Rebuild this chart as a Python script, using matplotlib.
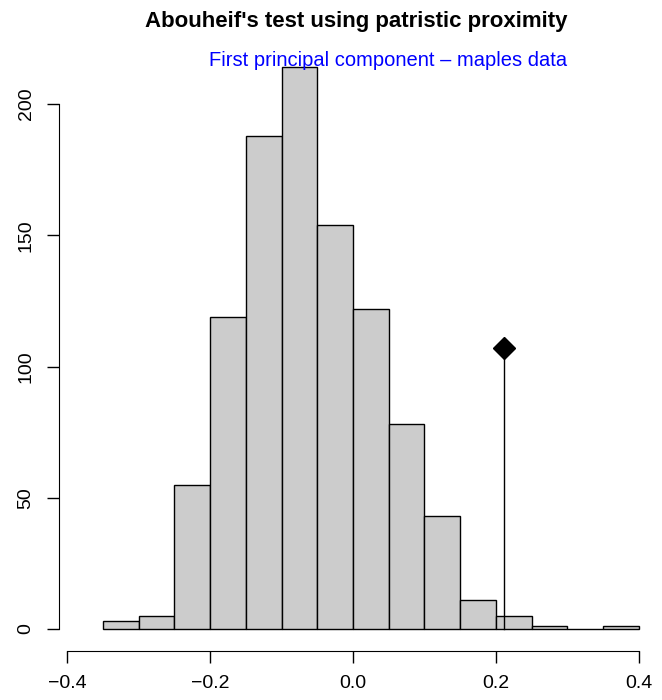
import numpy as np
import matplotlib.pyplot as plt

plt.rcParams.update({'font.family': ['Liberation Sans', 'DejaVu Sans']})

# histogram of simulated statistics (bin edges and counts)
bin_edges = [-0.35, -0.30, -0.25, -0.20, -0.15, -0.10, -0.05, 0.00,
             0.05, 0.10, 0.15, 0.20, 0.25, 0.30, 0.35, 0.40]
counts = [3, 5, 55, 119, 188, 214, 154, 122, 78, 43, 11, 5, 1, 0, 1]

# observed value
obs_x = 0.211
obs_height = 107

x_ticks = [-0.4, -0.2, 0.0, 0.2, 0.4]
y_ticks = [0, 50, 100, 150, 200]

fig = plt.figure(figsize=(6.62, 7), dpi=100)
ax = fig.add_axes([59 / 662, 49 / 700, 588 / 662, 606 / 700])

edges = np.array(bin_edges)
ax.bar(edges[:-1], counts, width=np.diff(edges), align='edge',
       color='#CCCCCC', edgecolor='black', linewidth=1.0)

ax.plot([obs_x, obs_x], [0, obs_height], color='black', linewidth=1.0)
ax.plot([obs_x], [obs_height], marker='D', markersize=11, color='black')

ax.set_xlim(-0.4112, 0.4112)
ax.set_ylim(-8.4, 222.5)

for s in ['top', 'right']:
    ax.spines[s].set_visible(False)
ax.spines['left'].set_bounds(0, 200)
ax.spines['bottom'].set_bounds(-0.4, 0.4)

ax.set_xticks(x_ticks)
ax.set_xticklabels(['\u22120.4', '\u22120.2', '0.0', '0.2', '0.4'])
ax.set_yticks(y_ticks)
ax.set_yticklabels([str(v) for v in y_ticks], rotation=90, va='center')
ax.tick_params(direction='out', length=8.6, width=1.0, labelsize=14, pad=9)

fig.text(356 / 662, 1 - 21 / 700, "Abouheif's test using patristic proximity",
         ha='center', va='center', fontsize=16, fontweight='bold')
fig.text(388 / 662, 1 - 61 / 700, "First principal component \u2013 maples data",
         ha='center', va='center', fontsize=14.5, color='blue')

plt.savefig('out.png', dpi=100)
